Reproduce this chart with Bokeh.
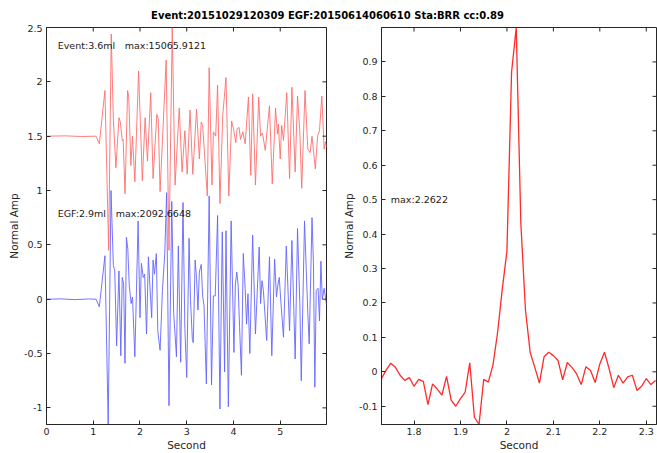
import math
from bokeh.plotting import figure
from bokeh.layouts import column, row
from bokeh.models import Range1d, FixedTicker, PrintfTickFormatter, Label
from bokeh.embed import file_html
from bokeh.resources import INLINE

title_text = "Event:20151029120309 EGF:20150614060610 Sta:BRR cc:0.89"
event_mag_text = "Event:3.6ml"
event_max_text = "max:15065.9121"
egf_mag_text = "EGF:2.9ml"
egf_max_text = "max:2092.6648"
cc_text = "max:2.2622"

# Event waveform (normalised), drawn shifted up by event_offset
event_t = [0.00, 0.40, 0.75, 1.06, 1.13, 1.25, 1.33, 1.385, 1.43, 1.485, 1.55, 1.58, 1.62, 1.64,
           1.68, 1.735, 1.76, 1.805, 1.84, 1.89, 1.97, 2.05, 2.11, 2.16, 2.23, 2.28, 2.36, 2.39,
           2.43, 2.56, 2.62, 2.69, 2.75, 2.84, 2.90, 2.96, 3.01, 3.07, 3.13, 3.21, 3.27, 3.31,
           3.34, 3.44, 3.48, 3.54, 3.57, 3.62, 3.66, 3.71, 3.77, 3.84, 3.90, 3.96, 4.00, 4.05,
           4.08, 4.12, 4.15, 4.20, 4.25, 4.32, 4.37, 4.41, 4.47, 4.54, 4.58, 4.62, 4.68, 4.77,
           4.83, 4.90, 4.94, 4.96, 5.00, 5.03, 5.07, 5.14, 5.20, 5.25, 5.32, 5.37, 5.42, 5.46,
           5.53, 5.59, 5.64, 5.68, 5.75, 5.80, 5.84, 5.89, 5.94, 5.97, 5.99]
event_amp = [0.00, 0.003, -0.003, 0.00, -0.07, 0.42, -1.05, 0.94, 0.16, -0.29, 0.17, 0.13, -0.04, -0.03,
             -0.53, 0.42, 0.36, -0.27, 0.00, -0.42, 0.60, -0.41, 0.17, -0.23, 0.40, -0.39, 0.20, 0.16,
             -0.51, 0.70, -1.05, 1.00, -0.45, 0.26, -0.33, 0.05, -0.35, 0.24, -0.35, 0.25, -0.21, 0.13,
             0.10, -0.55, 0.63, -0.45, 0.04, 0.00, 0.47, -0.62, 0.19, 0.54, -0.55, 0.14, 0.07, -0.06,
             0.07, 0.08, -0.03, 0.04, -0.07, 0.36, -0.36, 0.39, -0.45, 0.36, 0.00, 0.03, -0.13, 0.28,
             -0.44, 0.26, 0.02, 0.11, -0.21, 0.10, -0.04, 0.40, -0.39, 0.45, -0.33, 0.37, 0.03, -0.48,
             0.42, -0.12, -0.15, 0.00, -0.30, 0.00, 0.05, 0.37, -0.12, -0.05, -0.10]
event_offset = 1.5

# EGF waveform (normalised)
egf_t = [0.00, 0.30, 0.60, 0.90, 1.06, 1.13, 1.25, 1.32, 1.38, 1.43, 1.46, 1.50, 1.55, 1.59,
         1.62, 1.65, 1.68, 1.71, 1.74, 1.77, 1.81, 1.84, 1.89, 1.96, 2.00, 2.03, 2.07, 2.10,
         2.14, 2.18, 2.21, 2.25, 2.28, 2.31, 2.35, 2.38, 2.43, 2.48, 2.53, 2.57, 2.62, 2.68,
         2.72, 2.78, 2.82, 2.87, 2.92, 2.96, 3.00, 3.05, 3.08, 3.12, 3.14, 3.18, 3.21, 3.24,
         3.27, 3.31, 3.34, 3.37, 3.42, 3.48, 3.53, 3.57, 3.61, 3.66, 3.71, 3.76, 3.81, 3.84,
         3.89, 3.95, 4.01, 4.04, 4.07, 4.10, 4.13, 4.17, 4.21, 4.25, 4.28, 4.31, 4.35, 4.41,
         4.47, 4.55, 4.58, 4.61, 4.64, 4.71, 4.77, 4.82, 4.88, 4.92, 4.95, 4.98, 5.01, 5.07,
         5.13, 5.20, 5.25, 5.32, 5.37, 5.42, 5.45, 5.52, 5.59, 5.62, 5.68, 5.71, 5.74, 5.77,
         5.81, 5.84, 5.87, 5.90, 5.94, 5.99]
egf_amp = [0.000, 0.003, -0.004, 0.002, 0.000, -0.07, 0.40, -1.153, 1.00, 0.31, 0.26, -0.43, 0.26, -0.52,
           0.20, 0.14, -0.59, 0.57, 0.46, 0.13, -0.04, 0.02, -0.53, 0.72, -0.17, 0.33, 0.20, 0.23,
           -0.32, 0.39, 0.14, -0.17, 0.36, 0.23, 0.42, -0.29, -0.47, 0.08, 0.42, 0.98, -0.98, 0.90,
           -0.12, -0.53, 0.49, -0.58, 0.89, -0.27, -0.72, 0.56, 0.00, -0.37, -0.40, 0.36, 0.19, -0.10,
           0.25, 0.32, 0.03, -0.06, -0.78, 0.95, -0.79, 0.03, 0.03, 0.77, -1.01, 0.62, -0.67, 0.63,
           -0.99, 0.72, -0.49, 0.13, 0.25, 0.13, -0.25, -0.70, 0.42, 0.10, -0.23, 0.05, -0.50, 0.59,
           -0.32, 0.48, -0.04, 0.17, 0.08, -0.38, 0.39, -0.52, 0.37, 0.02, 0.13, 0.20, 0.00, -0.35,
           0.49, -0.29, 0.54, -0.55, 0.65, -0.04, -0.75, 0.72, -0.13, -0.41, 0.75, 0.34, -0.81, 0.08,
           0.10, -0.20, 0.35, 0.00, 0.10, -0.05]

# Cross-correlation trace (right panel)
cc_t = [1.73, 1.74, 1.75, 1.76, 1.77, 1.78, 1.79, 1.80, 1.81, 1.82, 1.83, 1.84, 1.85, 1.86, 1.87,
        1.88, 1.89, 1.90, 1.91, 1.92, 1.93, 1.94, 1.95, 1.96, 1.97, 1.98, 1.99, 2.00, 2.01, 2.02,
        2.03, 2.04, 2.05, 2.06, 2.07, 2.08, 2.09, 2.10, 2.11, 2.12, 2.13, 2.14, 2.15, 2.16, 2.17,
        2.18, 2.19, 2.20, 2.21, 2.22, 2.23, 2.24, 2.25, 2.26, 2.27, 2.28, 2.29, 2.30, 2.31, 2.32]
cc_amp = [-0.020, 0.005, 0.025, 0.013, -0.010, -0.025, -0.017, -0.042, -0.022, -0.028, -0.095, -0.035,
          -0.050, -0.068, -0.013, -0.082, -0.100, -0.078, -0.060, 0.026, -0.132, -0.153, -0.022, -0.030,
          0.020, 0.115, 0.240, 0.350, 0.870, 1.000, 0.430, 0.178, 0.057, 0.013, -0.033, 0.044, 0.057,
          0.047, 0.033, -0.023, 0.027, 0.013, -0.006, -0.037, 0.015, 0.004, -0.031, 0.023, 0.057, 0.009,
          -0.046, -0.010, -0.033, -0.015, -0.010, -0.054, -0.042, -0.020, -0.037, -0.025]

left_xticks = [0, 1, 2, 3, 4, 5]
left_yticks = [-1, -0.5, 0, 0.5, 1, 1.5, 2, 2.5]
right_xticks = [1.8, 1.9, 2.0, 2.1, 2.2, 2.3]
right_yticks = [-0.1, 0, 0.1, 0.2, 0.3, 0.4, 0.5, 0.6, 0.7, 0.8, 0.9]

FONT = "DejaVu Sans"
AX = "#262626"
TXT = "#1a1a1a"


def style(p, xticks, yticks):
    p.xgrid.visible = False
    p.ygrid.visible = False
    p.outline_line_color = AX
    p.outline_line_width = 1
    p.background_fill_color = "white"
    p.border_fill_color = "white"
    p.xaxis.ticker = FixedTicker(ticks=xticks)
    p.yaxis.ticker = FixedTicker(ticks=yticks)
    for ax in p.axis:
        ax.formatter = PrintfTickFormatter(format="%g")
        ax.axis_line_color = AX
        ax.axis_line_width = 1
        ax.major_tick_line_color = AX
        ax.major_tick_in = 4
        ax.major_tick_out = 0
        ax.minor_tick_in = 0
        ax.minor_tick_out = 0
        ax.minor_tick_line_color = None
        ax.major_label_text_font = FONT
        ax.major_label_text_font_size = "9.5px"
        ax.major_label_text_color = AX
        ax.axis_label_text_font = FONT
        ax.axis_label_text_font_size = "10.5px"
        ax.axis_label_text_font_style = "normal"
        ax.axis_label_text_color = AX
    p.xaxis.major_label_standoff = 3
    p.xaxis.axis_label_standoff = 1
    p.yaxis.major_label_standoff = 4
    p.yaxis.axis_label_standoff = 1
    # inward tick marks on the top and right edges of the box (mirror ticks)
    top = p.y_range.end
    right = p.x_range.end
    p.ray(x=xticks, y=[top] * len(xticks), length=4, length_units="screen",
          angle=-math.pi / 2, line_color=AX, line_width=1)
    p.ray(x=[right] * len(yticks), y=yticks, length=4, length_units="screen",
          angle=math.pi, line_color=AX, line_width=1)


p1 = figure(width=330, height=429, x_range=Range1d(0, 5.99), y_range=Range1d(-1.153, 2.5),
            output_backend="svg", toolbar_location=None,
            min_border_left=46, min_border_right=4, min_border_top=3, min_border_bottom=29)
p1.xaxis.axis_label = "Second"
p1.yaxis.axis_label = "Normal Amp"
p1.line(event_t, [a + event_offset for a in event_amp], line_color="#ff6e6e", line_width=0.9)
p1.line(egf_t, egf_amp, line_color="#6464ff", line_width=0.9)
p1.add_layout(Label(x=0.24, y=2.33, text=event_mag_text, text_font=FONT, text_font_size="9.5px",
                    text_baseline="middle", text_color=TXT))
p1.add_layout(Label(x=0.24, y=2.33, x_offset=67, text=event_max_text, text_font=FONT,
                    text_font_size="9.5px", text_baseline="middle", text_color=TXT))
p1.add_layout(Label(x=0.24, y=0.79, text=egf_mag_text, text_font=FONT, text_font_size="9.5px",
                    text_baseline="middle", text_color=TXT))
p1.add_layout(Label(x=0.24, y=0.79, x_offset=58, text=egf_max_text, text_font=FONT,
                    text_font_size="9.5px", text_baseline="middle", text_color=TXT))
style(p1, left_xticks, left_yticks)

p2 = figure(width=327, height=429, x_range=Range1d(1.73, 2.322), y_range=Range1d(-0.153, 1.0),
            output_backend="svg", toolbar_location=None,
            min_border_left=51, min_border_right=1, min_border_top=3, min_border_bottom=29)
p2.xaxis.axis_label = "Second"
p2.yaxis.axis_label = "Normal Amp"
p2.line(cc_t, cc_amp, line_color="#ff2a2a", line_width=1.3)
p2.add_layout(Label(x=1.75, y=0.5, text=cc_text, text_font=FONT, text_font_size="9.5px",
                    text_baseline="middle", text_color=TXT))
style(p2, right_xticks, right_yticks)

pt = figure(width=657, height=24, x_range=Range1d(0, 657), y_range=Range1d(0, 24),
            x_axis_type=None, y_axis_type=None, output_backend="svg", toolbar_location=None,
            min_border=0)
pt.outline_line_color = None
pt.xgrid.visible = False
pt.ygrid.visible = False
pt.add_layout(Label(x=327, y=9, text=title_text, text_font=FONT, text_font_size="10px",
                    text_font_style="bold", text_align="center", text_baseline="middle",
                    text_color="black"))

layout = column(pt, row(p1, p2))
open("out.html", "w").write(file_html(layout, INLINE))
